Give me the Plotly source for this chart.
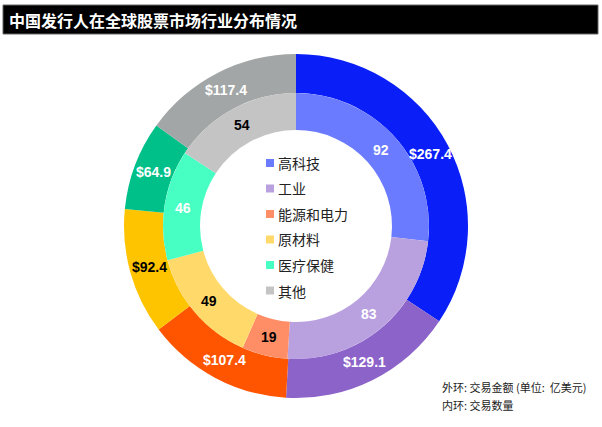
import numpy as np
import plotly.graph_objects as go

# sectors, clockwise from 12 o'clock
sectors = ['高科技', '工业', '能源和电力', '原材料', '医疗保健', '其他']
deal_value = [267.4, 129.1, 107.4, 92.4, 64.9, 117.4]   # outer ring, 亿美元
deal_count = [92, 83, 19, 49, 46, 54]                     # inner ring

outer_colors = ['#0A1FF7', '#8C63C9', '#FF5500', '#FFC400', '#00C08A', '#A3A6A6']
inner_colors = ['#6B7BFF', '#B9A1E0', '#FF8E66', '#FFDA6A', '#48FFC3', '#C4C4C4']
outer_text = ['white', 'white', 'white', 'black', 'white', 'white']
inner_text = ['white', 'white', 'black', 'black', 'white', 'black']

W, H = 602, 427
cx, cy = 296, 226
r_out, r_mid, r_in = 172, 133, 96


def dom(r):
    return dict(x=[(cx - r) / W, (cx + r) / W],
                y=[(H - cy - r) / H, (H - cy + r) / H])


fig = go.Figure()
fig.add_trace(go.Pie(
    labels=sectors, values=deal_value, sort=False, direction='clockwise', rotation=0,
    hole=r_mid / r_out, domain=dom(r_out),
    marker=dict(colors=outer_colors, line=dict(width=0)),
    textinfo='none', showlegend=False, hoverinfo='label+value',
))
fig.add_trace(go.Pie(
    labels=sectors, values=deal_count, sort=False, direction='clockwise', rotation=0,
    hole=r_in / r_mid, domain=dom(r_mid),
    marker=dict(colors=inner_colors, line=dict(width=0)),
    textinfo='none', showlegend=False, hoverinfo='label+value',
))

annotations = []


# slice labels at the middle of each ring, on the slice bisector
def ring_labels(vals, texts, colors, r):
    v = np.array(vals, dtype=float)
    mid = (np.cumsum(v) - v / 2) / v.sum() * 2 * np.pi
    for a, t, c in zip(mid, texts, colors):
        annotations.append(dict(text=t, xref='paper', yref='paper',
                                x=(cx + r * np.sin(a)) / W, y=(H - cy + r * np.cos(a)) / H,
                                xanchor='center', yanchor='middle', showarrow=False,
                                font=dict(family='Liberation Sans, Arial, sans-serif',
                                          size=14, color=c, weight='bold')))


ring_labels(deal_value, ['$%.1f' % v for v in deal_value], outer_text, (r_out + r_mid) / 2)
ring_labels(deal_count, [str(v) for v in deal_count], inner_text, (r_mid + r_in) / 2)

# title bar
shapes = [dict(type='rect', xref='paper', yref='paper',
               x0=3 / W, x1=598 / W, y0=1 - 34 / H, y1=1 - 5 / H,
               fillcolor='black', line=dict(color='#666666', width=1))]
annotations.append(dict(text='中国发行人在全球股票市场行业分布情况', xref='paper', yref='paper',
                        x=7 / W, y=1 - 20 / H, xanchor='left', yanchor='middle', showarrow=False,
                        font=dict(family='Noto Sans CJK SC', size=16, color='white', weight='bold')))

# centre legend
leg_y0, leg_step = 163, 25.5
for i, (name, col) in enumerate(zip(sectors, inner_colors)):
    y = leg_y0 + i * leg_step
    shapes.append(dict(type='rect', xref='paper', yref='paper',
                       x0=266 / W, x1=274 / W, y0=1 - (y + 4) / H, y1=1 - (y - 4) / H,
                       fillcolor=col, line=dict(width=0)))
    annotations.append(dict(text=name, xref='paper', yref='paper',
                            x=276 / W, y=1 - y / H, xanchor='left', yanchor='middle',
                            showarrow=False,
                            font=dict(family='Noto Sans CJK SC', size=14, color='#222222')))

# notes
for txt, y in [('外环: 交易金额 (单位:  亿美元)', 387), ('内环: 交易数量', 405)]:
    annotations.append(dict(text=txt, xref='paper', yref='paper',
                            x=440 / W, y=1 - y / H, xanchor='left', yanchor='middle',
                            showarrow=False,
                            font=dict(family='Noto Sans CJK SC', size=11, color='#222222')))

fig.update_layout(width=W, height=H, margin=dict(l=0, r=0, t=0, b=0),
                  paper_bgcolor='white', plot_bgcolor='white',
                  shapes=shapes, annotations=annotations)

# drop the default 8px body margin so the figure sits at the window origin
fig.write_html('out.html', config={'displayModeBar': False},
               post_script="document.body.style.margin='0';")
